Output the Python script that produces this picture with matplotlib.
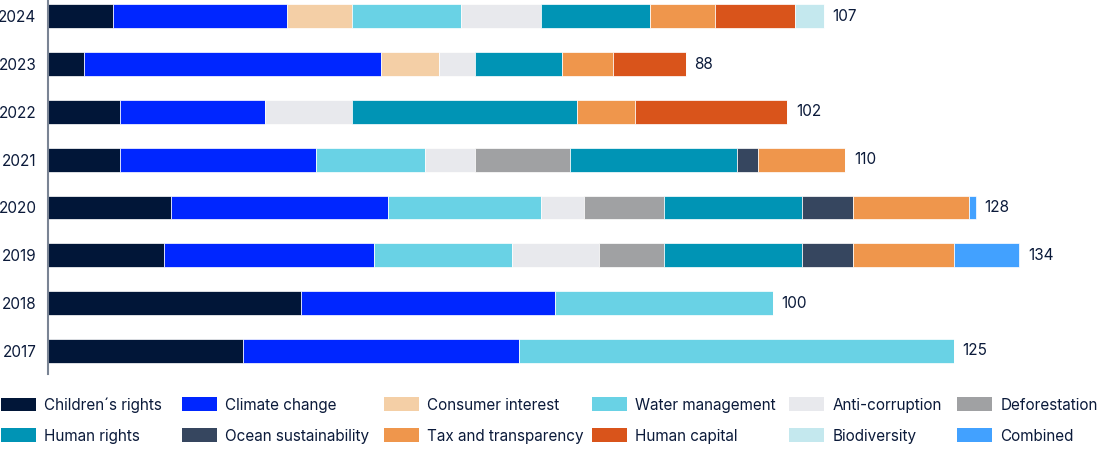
import matplotlib
matplotlib.use("Agg")
import matplotlib.pyplot as plt
from matplotlib.patches import Patch
import numpy as np

years = ["2024", "2023", "2022", "2021", "2020", "2019", "2018", "2017"]
categories = ["Children´s rights", "Climate change", "Consumer interest", "Water management",
              "Anti-corruption", "Deforestation", "Human rights", "Ocean sustainability",
              "Tax and transparency", "Human capital", "Biodiversity", "Combined"]
colors = ["#011638", "#0026ff", "#f4cfa6", "#69d2e5", "#e8e9ed", "#a0a1a3",
          "#0094b5", "#36465f", "#ef964c", "#d9541b", "#c4e8ee", "#42a1ff"]

# values per category, ordered as years (2024 ... 2017)
childrens_rights     = [9, 5, 10, 10, 17, 16, 35, 27]
climate_change       = [24, 41, 20, 27, 30, 29, 35, 38]
consumer_interest    = [9, 8, 0, 0, 0, 0, 0, 0]
water_management     = [15, 0, 0, 15, 21, 19, 30, 60]
anti_corruption      = [11, 5, 12, 7, 6, 12, 0, 0]
deforestation        = [0, 0, 0, 13, 11, 9, 0, 0]
human_rights         = [15, 12, 31, 23, 19, 19, 0, 0]
ocean_sustainability = [0, 0, 0, 3, 7, 7, 0, 0]
tax_transparency     = [9, 7, 8, 12, 16, 14, 0, 0]
human_capital        = [11, 10, 21, 0, 0, 0, 0, 0]
biodiversity         = [4, 0, 0, 0, 0, 0, 0, 0]
combined             = [0, 0, 0, 0, 1, 9, 0, 0]
totals               = [107, 88, 102, 110, 128, 134, 100, 125]

series = [childrens_rights, climate_change, consumer_interest, water_management,
          anti_corruption, deforestation, human_rights, ocean_sustainability,
          tax_transparency, human_capital, biodiversity, combined]

plt.rcParams['font.family'] = ['Inter', 'DejaVu Sans']
text_color = "#0b1a3a"

W, H = 1098, 449
fig = plt.figure(figsize=(W / 100, H / 100), dpi=100)
step = 47.8
top_margin, bottom_margin = 0.34, 0.48
ax_height_px = (len(years) - 1 + top_margin + bottom_margin) * step
ax_left_px = 47.6
ppu = 7.252
xmax = 140
ax = fig.add_axes([ax_left_px / W, 1 - ax_height_px / H, xmax * ppu / W, ax_height_px / H])

y = np.arange(len(years))
left = np.zeros(len(years))
for vals, col in zip(series, colors):
    v = np.array(vals, dtype=float)
    ax.barh(y, v, left=left, height=0.5, color=col, edgecolor="white", linewidth=0.5)
    left += v

for yi, t in zip(y, totals):
    ax.annotate(str(t), xy=(t, yi), xytext=(6.2, 0), textcoords="offset points",
                va="center", ha="left", fontsize=11, color=text_color)

ax.set_ylim(len(years) - 1 + bottom_margin, -top_margin)
ax.set_xlim(0, xmax)
ax.set_yticks(y)
ax.set_yticklabels(years, fontsize=11, color=text_color)
ax.tick_params(axis="y", length=0, pad=8)
ax.set_xticks([])
for s in ["top", "right", "bottom"]:
    ax.spines[s].set_visible(False)
ax.spines["left"].set_color("#7a8494")
ax.spines["left"].set_linewidth(1.5)

# legend: 6 columns x 2 rows, one single-entry legend per item
col_x = [1, 182, 384, 592, 789, 957]
row_y = [405, 436]
fs = 11
for i, (lab, col) in enumerate(zip(categories, colors)):
    r, c = divmod(i, 6)
    fig.legend([Patch(facecolor=col, edgecolor="none")], [lab], loc="center left",
               bbox_to_anchor=(col_x[c] / W, 1 - row_y[r] / H),
               frameon=False, borderpad=0, borderaxespad=0,
               handlelength=2.29, handleheight=1.0, handletextpad=0.54,
               fontsize=fs, labelcolor=text_color)

fig.savefig("out.png", dpi=100)
